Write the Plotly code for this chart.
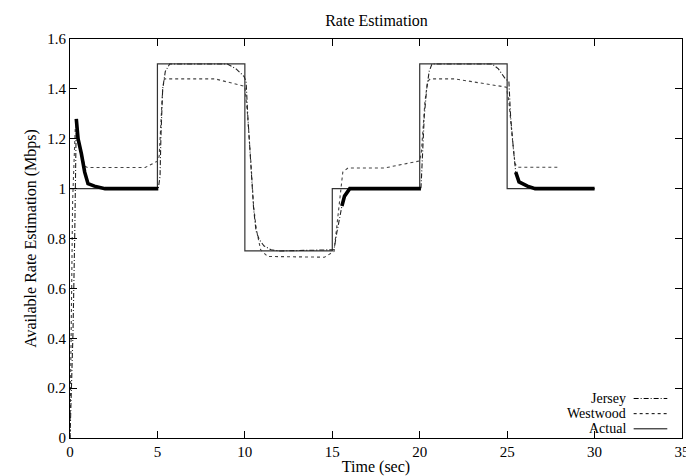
import numpy as np
import plotly.graph_objects as go

# ---- data ----
actual_t = [0, 5, 5, 10, 10, 15, 15, 20, 20, 25, 25, 30]
actual_v = [1.0, 1.0, 1.5, 1.5, 0.75, 0.75, 1.0, 1.0, 1.5, 1.5, 1.0, 1.0]

jersey_t = [0.0, 0.17, 0.27, 0.32, 0.36, 0.46, 0.65, 0.84, 1.03, 1.4, 2.0,
            5.05, 5.15, 5.2, 5.3, 5.45, 5.7, 9.0, 9.5, 9.95,
            10.07, 10.17, 10.36, 10.5, 10.64, 10.83, 11.1, 11.5, 12.0,
            15.1, 15.25, 15.4, 15.55, 15.7, 16.0, 16.5,
            20.07, 20.15, 20.26, 20.4, 20.54, 20.7, 24.15, 24.5, 24.9,
            25.1, 25.2, 25.36, 25.49, 25.68, 26.16, 26.6, 30.0]
jersey_v = [0.0, 0.42, 0.81, 1.07, 1.28, 1.2, 1.14, 1.066, 1.02, 1.01, 1.0,
            1.0, 1.05, 1.21, 1.40, 1.47, 1.5, 1.5, 1.48, 1.45,
            1.43, 1.29, 1.09, 0.92, 0.83, 0.795, 0.77, 0.755, 0.75,
            0.755, 0.82, 0.878, 0.93, 0.97, 1.0, 1.0,
            1.0, 1.12, 1.29, 1.40, 1.47, 1.5, 1.5, 1.48, 1.44,
            1.43, 1.287, 1.157, 1.066, 1.027, 1.01, 1.0, 1.0]

westwood_t = [0.0, 0.15, 0.3, 0.55, 0.84, 1.0, 4.3, 5.0, 5.1, 5.2, 5.3, 5.4,
              8.3, 10.0, 10.15, 10.35, 10.5, 10.65, 10.9, 11.3, 14.55,
              15.1, 15.6, 15.9, 18.0, 20.0, 20.1, 20.3, 20.45, 20.6, 22.0,
              24.95, 25.1, 25.3, 25.45, 25.6, 27.9]
westwood_v = [0.0, 0.95, 1.24, 1.18, 1.09, 1.085, 1.085, 1.11, 1.13, 1.25, 1.40, 1.44,
              1.44, 1.41, 1.3, 1.1, 0.93, 0.84, 0.755, 0.728, 0.725,
              0.748, 1.066, 1.083, 1.083, 1.111, 1.15, 1.35, 1.43, 1.44, 1.44,
              1.407, 1.35, 1.2, 1.1, 1.086, 1.086]

# time windows where the Jersey estimate oscillates densely (drawn as a thick band)
dense_windows = [(0.36, 5.1), (15.55, 20.1), (25.49, 30.0)]

x_ticks = [0, 5, 10, 15, 20, 25, 30, 35]
y_ticks = [0, 0.2, 0.4, 0.6, 0.8, 1.0, 1.2, 1.4, 1.6]

FONT = "Liberation Serif, Times New Roman, serif"

fig = go.Figure()

fig.add_trace(go.Scatter(x=actual_t, y=actual_v, mode="lines", name="Actual",
                         line=dict(color="#333333", width=1.2), showlegend=False))
fig.add_trace(go.Scatter(x=westwood_t, y=westwood_v, mode="lines", name="Westwood",
                         line=dict(color="#444444", width=1.1, dash="3px,3px"),
                         showlegend=False))
fig.add_trace(go.Scatter(x=jersey_t, y=jersey_v, mode="lines", name="Jersey",
                         line=dict(color="#222222", width=1.1, dash="5px,2px,1px,2px"),
                         showlegend=False))

jt = np.array(jersey_t)
jv = np.array(jersey_v)
for a, b in dense_windows:
    m = (jt >= a) & (jt <= b)
    fig.add_trace(go.Scatter(x=jt[m], y=jv[m], mode="lines", name="Jersey",
                             line=dict(color="black", width=3.6),
                             showlegend=False, hoverinfo="skip"))

# gnuplot-style key (text right-aligned, sample line on the right)
legend_items = [("Jersey", "5px,2px,1px,2px"), ("Westwood", "3px,3px"), ("Actual", "solid")]
key_y0 = 0.099  # paper coordinate of first row
row_h = 0.038
for i, (label, dash) in enumerate(legend_items):
    yy = key_y0 - i * row_h
    fig.add_annotation(x=0.910, y=yy, xref="paper", yref="paper", text=label,
                       showarrow=False, xanchor="right", yanchor="middle",
                       borderpad=0,
                       font=dict(family=FONT, size=14, color="black"))
    fig.add_shape(type="line", xref="paper", yref="paper",
                  x0=0.921, x1=0.976, y0=yy, y1=yy,
                  line=dict(color="black", width=1, dash=dash))

axis_common = dict(
    showline=True, linecolor="black", linewidth=1, mirror="ticks",
    ticks="inside", ticklen=7, tickcolor="black", showgrid=False, zeroline=False,
    tickfont=dict(family=FONT, size=15, color="black"),
)

fig.update_layout(
    width=694, height=476,
    margin=dict(l=62, r=19, t=31, b=34),
    paper_bgcolor="white", plot_bgcolor="white",
    title=dict(text="Rate Estimation", x=0.531, xanchor="center", y=0.975, yanchor="middle",
               font=dict(family=FONT, size=16, color="black")),
    xaxis=dict(range=[0, 35], tickvals=x_ticks,
               title=dict(text="Time (sec)", standoff=1,
                          font=dict(family=FONT, size=16, color="black")),
               **axis_common),
    yaxis=dict(range=[0, 1.6], tickvals=y_ticks,
               title=dict(text="Available Rate Estimation (Mbps)", standoff=6,
                          font=dict(family=FONT, size=16, color="black")),
               **axis_common),
)

fig.write_html("out.html")
